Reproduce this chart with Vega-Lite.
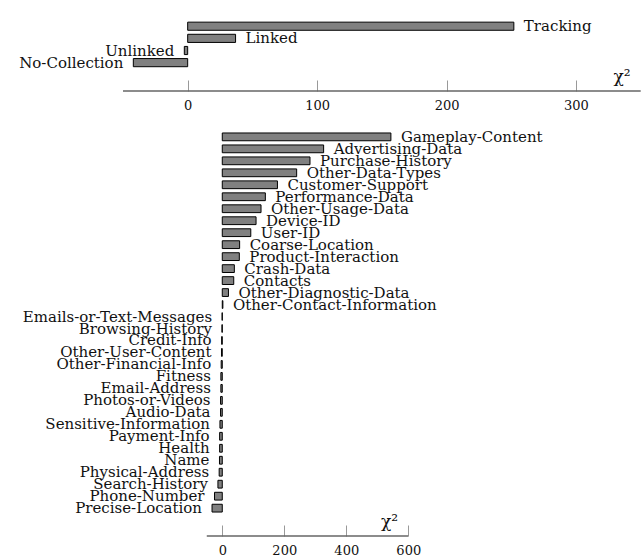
{
  "$schema": "https://vega.github.io/schema/vega-lite/v6.json",
  "padding": {"left": 0, "right": 0, "top": 10, "bottom": 2},
  "background": "white",
  "config": {
    "view": {"stroke": null},
    "font": "DejaVu Serif",
    "text": {"font": "DejaVu Serif", "fontSize": 15, "color": "#111"},
    "axis": {"labelFont": "DejaVu Serif", "labelFontSize": 13, "labelColor": "#111"}
  },
  "datasets": {
    "top": [
      {"k": "Tracking", "v": 252},
      {"k": "Linked", "v": 37},
      {"k": "Unlinked", "v": -2.6},
      {"k": "No-Collection", "v": -42}
    ],
    "bottom": [
      {"k": "Gameplay-Content", "v": 544},
      {"k": "Advertising-Data", "v": 327},
      {"k": "Purchase-History", "v": 283},
      {"k": "Other-Data-Types", "v": 240},
      {"k": "Customer-Support", "v": 178},
      {"k": "Performance-Data", "v": 139},
      {"k": "Other-Usage-Data", "v": 125},
      {"k": "Device-ID", "v": 109},
      {"k": "User-ID", "v": 92},
      {"k": "Coarse-Location", "v": 56},
      {"k": "Product-Interaction", "v": 55},
      {"k": "Crash-Data", "v": 39},
      {"k": "Contacts", "v": 37},
      {"k": "Other-Diagnostic-Data", "v": 20},
      {"k": "Other-Contact-Information", "v": 2},
      {"k": "Emails-or-Text-Messages", "v": -0.5},
      {"k": "Browsing-History", "v": -1},
      {"k": "Credit-Info", "v": -2},
      {"k": "Other-User-Content", "v": -2.5},
      {"k": "Other-Financial-Info", "v": -3.5},
      {"k": "Fitness", "v": -4.5},
      {"k": "Email-Address", "v": -4.5},
      {"k": "Photos-or-Videos", "v": -5.5},
      {"k": "Audio-Data", "v": -5.5},
      {"k": "Sensitive-Information", "v": -7.5},
      {"k": "Payment-Info", "v": -8.5},
      {"k": "Health", "v": -8.5},
      {"k": "Name", "v": -9},
      {"k": "Physical-Address", "v": -10},
      {"k": "Search-History", "v": -14},
      {"k": "Phone-Number", "v": -25},
      {"k": "Precise-Location", "v": -33}
    ]
  },
  "vconcat": [
    {
      "width": 642,
      "height": 81,
      "data": {"name": "top"},
      "encoding": {
        "x": {"type": "quantitative", "scale": {"domain": [-145, 351], "nice": false, "zero": false},
              "axis": {"values": [0, 100, 200, 300], "domain": false, "grid": false, "tickSize": -11, "tickColor": "#999", "tickWidth": 1, "labelPadding": 19, "title": null}},
        "y": {"field": "k", "type": "nominal", "sort": null, "axis": null,
              "scale": {"paddingInner": 0.33, "paddingOuter": 1.54}}
      },
      "layer": [
        {"mark": {"type": "bar", "fill": "#808080", "stroke": "#000", "strokeWidth": 1},
         "encoding": {"x": {"field": "v", "type": "quantitative"}, "x2": {"datum": 0}}},
        {"transform": [{"filter": "datum.v >= 0"}],
         "mark": {"type": "text", "align": "left", "baseline": "middle", "dx": 10},
         "encoding": {"x": {"field": "v", "type": "quantitative"}, "text": {"field": "k"}}},
        {"transform": [{"filter": "datum.v < 0"}],
         "mark": {"type": "text", "align": "right", "baseline": "middle", "dx": -10},
         "encoding": {"x": {"field": "v", "type": "quantitative"}, "text": {"field": "k"}}},
        {"data": {"values": [{"a": 0}]},
         "mark": {"type": "rule", "color": "#000", "strokeWidth": 1.5},
         "encoding": {"x": {"field": "a", "type": "quantitative"}}},
        {"data": {"values": [{"a": -50, "b": 350}]},
         "mark": {"type": "rule", "color": "#666", "strokeWidth": 1.5},
         "encoding": {"x": {"field": "a", "type": "quantitative"}, "x2": {"field": "b"}, "y": {"value": 81}}},
        {"data": {"values": [{"a": 329, "t": "χ²"}]},
         "mark": {"type": "text", "align": "left", "baseline": "alphabetic", "fontSize": 17},
         "encoding": {"x": {"field": "a", "type": "quantitative"}, "y": {"value": 72}, "text": {"field": "t"}}}
      ]
    },
    {
      "width": 642,
      "height": 415,
      "data": {"name": "bottom"},
      "encoding": {
        "x": {"type": "quantitative", "scale": {"domain": [-717, 1354], "nice": false, "zero": false},
              "axis": {"values": [0, 200, 400, 600], "domain": false, "grid": false, "tickSize": -11, "tickColor": "#999", "tickWidth": 1, "labelPadding": 19, "title": null}},
        "y": {"field": "k", "type": "nominal", "sort": null, "axis": null,
              "scale": {"paddingInner": 0.35, "paddingOuter": 1.475}}
      },
      "layer": [
        {"mark": {"type": "bar", "fill": "#808080", "stroke": "#000", "strokeWidth": 1},
         "encoding": {"x": {"field": "v", "type": "quantitative"}, "x2": {"datum": 0}}},
        {"transform": [{"filter": "datum.v >= 0"}],
         "mark": {"type": "text", "align": "left", "baseline": "middle", "dx": 10},
         "encoding": {"x": {"field": "v", "type": "quantitative"}, "text": {"field": "k"}}},
        {"transform": [{"filter": "datum.v < 0"}],
         "mark": {"type": "text", "align": "right", "baseline": "middle", "dx": -10},
         "encoding": {"x": {"field": "v", "type": "quantitative"}, "text": {"field": "k"}}},
        {"data": {"values": [{"a": 0}]},
         "mark": {"type": "rule", "color": "#000", "strokeWidth": 1.5},
         "encoding": {"x": {"field": "a", "type": "quantitative"}}},
        {"data": {"values": [{"a": -50, "b": 600}]},
         "mark": {"type": "rule", "color": "#666", "strokeWidth": 1.5},
         "encoding": {"x": {"field": "a", "type": "quantitative"}, "x2": {"field": "b"}, "y": {"value": 415}}},
        {"data": {"values": [{"a": 512, "t": "χ²"}]},
         "mark": {"type": "text", "align": "left", "baseline": "alphabetic", "fontSize": 17},
         "encoding": {"x": {"field": "a", "type": "quantitative"}, "y": {"value": 406}, "text": {"field": "t"}}}
      ]
    }
  ],
  "spacing": 30,
  "bounds": "flush"
}
